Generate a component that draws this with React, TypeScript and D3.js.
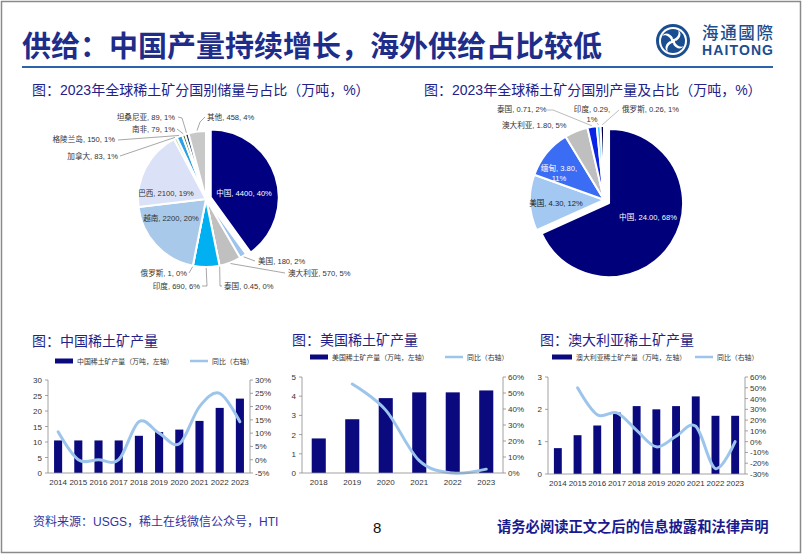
import React from 'react';
import * as d3 from 'd3';

// ---------- DATA ----------
const reserveCountries = ['中国', '美国', '澳大利亚', '泰国', '印度', '俄罗斯', '越南', '巴西', '加拿大', '格陵兰岛', '南非', '坦桑尼亚', '其他'];
const reserveValues = [4400, 180, 570, 0.45, 690, 1, 2200, 2100, 83, 150, 79, 89, 458];
const reserveShares = ['40%', '2%', '5%', '0%', '6%', '0%', '20%', '19%', '1%', '1%', '1%', '1%', '4%'];

const prodCountries = ['中国', '美国', '缅甸', '澳大利亚', '泰国', '印度', '俄罗斯'];
const prodValues = [24.0, 4.3, 3.8, 1.8, 0.71, 0.29, 0.26];
const prodValueLabels = ['24.00', '4.30', '3.80', '1.80', '0.71', '0.29', '0.26'];
const prodShares = ['68%', '12%', '11%', '5%', '2%', '1%', '1%'];

const cnYears = ['2014', '2015', '2016', '2017', '2018', '2019', '2020', '2021', '2022', '2023'];
const cnOutput = [10.5, 10.5, 10.5, 10.5, 12, 13.2, 14, 16.8, 21, 24];
const cnYoy = [10.5, 0, 0, 0, 14.3, 10, 6, 20, 25, 14.3];

const usYears = ['2018', '2019', '2020', '2021', '2022', '2023'];
const usOutput = [1.8, 2.8, 3.9, 4.2, 4.2, 4.3];
const usYoy: (number | null)[] = [null, 55.6, 39.3, 7.7, 0, 2.4];

const auYears = ['2014', '2015', '2016', '2017', '2018', '2019', '2020', '2021', '2022', '2023'];
const auOutput = [0.8, 1.2, 1.5, 1.9, 2.1, 2.0, 2.1, 2.4, 1.8, 1.8];
const auYoy: (number | null)[] = [null, 50, 25, 26.7, 10.5, -4.8, 5, 14.3, -25, 0];

const cnTicksL = [0, 5, 10, 15, 20, 25, 30];
const cnTicksR = [-5, 0, 5, 10, 15, 20, 25, 30];
const usTicksL = [0, 1, 2, 3, 4, 5];
const usTicksR = [0, 10, 20, 30, 40, 50, 60];
const auTicksL = [0, 1, 2, 3];
const auTicksR = [-30, -20, -10, 0, 10, 20, 30, 40, 50, 60];

// ---------- STYLE / LAYOUT ----------
const reserveColors = ['#000080', '#9dc3ee', '#c0c0c0', '#7f7f7f', '#00b0f0', '#1f3864', '#a9c9ea', '#dbe2f8', '#c5e0b4', '#2e9fe6', '#3d6b2a', '#1c3a66', '#c8c8c8'];
const prodColors = ['#00007a', '#a3c8f2', '#3a6cf4', '#bfbfbf', '#0a24e6', '#33ccff', '#000050'];

const CJK = '"Liberation Sans", "Noto Sans CJK SC", sans-serif';
const NAVY = '#22228a';
const BAR = '#0a0a7e';
const LINE = '#9dc5ec';

type Lab = { x: number; y: number; anchor: string; fill?: string; lead?: [number, number][]; lines?: string[] };

const pie1Layout: Record<string, Lab> = {
  中国: { x: 244, y: 196, anchor: 'middle', fill: '#fff' },
  美国: { x: 258, y: 264, anchor: 'start', lead: [[255, 261]] },
  澳大利亚: { x: 288, y: 276, anchor: 'start', lead: [[285, 273]] },
  泰国: { x: 224, y: 289, anchor: 'start', lead: [[220, 286], [222, 286]] },
  印度: { x: 200, y: 289, anchor: 'end', lead: [[207, 286], [202, 286]] },
  俄罗斯: { x: 187, y: 276, anchor: 'end', lead: [[189, 273]] },
  越南: { x: 171, y: 221, anchor: 'middle' },
  巴西: { x: 166, y: 196, anchor: 'middle' },
  加拿大: { x: 118, y: 159, anchor: 'end', lead: [[120, 156]] },
  格陵兰岛: { x: 115, y: 142, anchor: 'end', lead: [[118, 140]] },
  南非: { x: 175, y: 132, anchor: 'end', lead: [[177, 129]] },
  坦桑尼亚: { x: 175, y: 120, anchor: 'end', lead: [[182, 118], [178, 117]] },
  其他: { x: 207, y: 120, anchor: 'start', lead: [[200, 122], [205, 117]] },
};
const pie1Explode: Record<string, number> = { 中国: 5 };

const pie2Layout: Record<string, Lab> = {
  中国: { x: 648, y: 220, anchor: 'middle', fill: '#fff' },
  美国: { x: 556, y: 206, anchor: 'middle', fill: '#222' },
  缅甸: { x: 559, y: 171, anchor: 'middle', fill: '#fff', lines: ['缅甸, 3.80,', '11%'] },
  澳大利亚: { x: 502, y: 128, anchor: 'start' },
  泰国: { x: 497, y: 112, anchor: 'start', lead: [[553, 110], [547, 110]] },
  印度: { x: 592, y: 112, anchor: 'middle', lead: [[597, 123]], lines: ['印度, 0.29,', '1%'] },
  俄罗斯: { x: 622, y: 112, anchor: 'start', lead: [[619, 110]] },
};
const pie2Explode: Record<string, number> = { 中国: 6 };

function Pie(props: {
  names: string[]; values: number[]; valueLabels: string[]; shares: string[]; colors: string[];
  cx: number; cy: number; r: number; layout: Record<string, Lab>; explode: Record<string, number>; leadColor: string;
}) {
  const { names, values, valueLabels, shares, colors, cx, cy, r, layout, explode, leadColor } = props;
  const data = names.map((n, i) => ({ n, v: values[i], i }));
  const arcs = d3.pie<any>().sort(null).value((d: any) => d.v)(data);
  const arc = d3.arc<any>().innerRadius(0).outerRadius(r);
  return (
    <g>
      {arcs.map((a: any) => {
        const mid = (a.startAngle + a.endAngle) / 2;
        const e = explode[a.data.n] || 0;
        const dx = Math.sin(mid) * e, dy = -Math.cos(mid) * e;
        return (
          <path key={a.data.n} d={arc(a) || ''} transform={`translate(${cx + dx},${cy + dy})`}
            fill={colors[a.data.i]} stroke="#fff" strokeWidth={2} strokeLinejoin="round" />
        );
      })}
      {arcs.map((a: any) => {
        const L = layout[a.data.n];
        if (!L || !L.lead) return null;
        const mid = (a.startAngle + a.endAngle) / 2;
        const p0: [number, number] = [cx + Math.sin(mid) * (r + 1), cy - Math.cos(mid) * (r + 1)];
        const pts = [p0, ...L.lead];
        return <polyline key={'l' + a.data.n} points={pts.map(p => p.join(',')).join(' ')} fill="none" stroke={leadColor} strokeWidth={0.75} />;
      })}
      {arcs.map((a: any) => {
        const L = layout[a.data.n];
        if (!L) return null;
        const i = a.data.i;
        const lines = L.lines || [`${names[i]}, ${valueLabels[i]}, ${shares[i]}`];
        return (
          <text key={'t' + a.data.n} x={L.x} y={L.y} textAnchor={L.anchor} fontSize={7.6} fill={L.fill || '#333'} fontFamily={CJK}>
            {lines.map((s, k) => <tspan key={k} x={L.x} dy={k === 0 ? 0 : 9.5}>{s}</tspan>)}
          </text>
        );
      })}
    </g>
  );
}

function BarChart(props: {
  title: string; legendBar: string; years: string[]; values: number[]; yoy: (number | null)[];
  ticksL: number[]; ticksR: number[]; left: number; right: number; top: number; bottom: number;
  titleX: number; titleY: number; legY: number; legBarX: number; legBarW: number; legLineX: number; pad: number;
}) {
  const p = props;
  const x = d3.scaleBand<string>().domain(p.years).range([p.left, p.right]).paddingInner(p.pad).paddingOuter(p.pad / 2);
  const yL = d3.scaleLinear().domain([p.ticksL[0], p.ticksL[p.ticksL.length - 1]]).range([p.bottom, p.top]);
  const yR = d3.scaleLinear().domain([p.ticksR[0], p.ticksR[p.ticksR.length - 1]]).range([p.bottom, p.top]);
  const pts = p.years.map((yr, i) => ({ yr, v: p.yoy[i] })).filter(d => d.v !== null) as { yr: string; v: number }[];
  const line = d3.line<{ yr: string; v: number }>()
    .x(d => (x(d.yr) as number) + x.bandwidth() / 2)
    .y(d => yR(d.v))
    .curve(d3.curveCardinal.tension(0));
  const axisColor = '#8c8c8c';
  return (
    <g>
      <text x={p.titleX} y={p.titleY} fontSize={14} fill={NAVY} fontFamily={CJK}>{p.title}</text>
      <rect x={p.legBarX} y={p.legY - 2.5} width={p.legBarW} height={5} fill={BAR} />
      <text x={p.legBarX + p.legBarW + 4} y={p.legY + 2.5} fontSize={6.9} fill="#333" fontFamily={CJK}>{p.legendBar}</text>
      <line x1={p.legLineX} x2={p.legLineX + 18} y1={p.legY} y2={p.legY} stroke={LINE} strokeWidth={2.5} />
      <text x={p.legLineX + 22} y={p.legY + 2.5} fontSize={6.9} fill="#333" fontFamily={CJK}>同比（右轴）</text>

      {p.values.map((v, i) => (
        <rect key={i} x={x(p.years[i]) as number} y={yL(v)} width={x.bandwidth()} height={p.bottom - yL(v)} fill={BAR} />
      ))}
      <path d={line(pts) || ''} fill="none" stroke={LINE} strokeWidth={3} strokeLinecap="round" />

      <line x1={p.left} x2={p.left} y1={p.top} y2={p.bottom} stroke={axisColor} strokeWidth={0.8} />
      <line x1={p.right} x2={p.right} y1={p.top} y2={p.bottom} stroke={axisColor} strokeWidth={0.8} />
      <line x1={p.left} x2={p.right} y1={p.bottom} y2={p.bottom} stroke={axisColor} strokeWidth={0.8} />
      {p.ticksL.map(t => (
        <g key={'L' + t}>
          <line x1={p.left - 3} x2={p.left} y1={yL(t)} y2={yL(t)} stroke={axisColor} strokeWidth={0.8} />
          <text x={p.left - 6} y={yL(t) + 3} textAnchor="end" fontSize={8} fill="#333" fontFamily={CJK}>{t}</text>
        </g>
      ))}
      {p.ticksR.map(t => (
        <g key={'R' + t}>
          <line x1={p.right} x2={p.right + 3} y1={yR(t)} y2={yR(t)} stroke={axisColor} strokeWidth={0.8} />
          <text x={p.right + 5} y={yR(t) + 3} textAnchor="start" fontSize={8} fill="#333" fontFamily={CJK}>{t}%</text>
        </g>
      ))}
      {p.years.map(yr => (
        <text key={'x' + yr} x={(x(yr) as number) + x.bandwidth() / 2} y={p.bottom + 12} textAnchor="middle" fontSize={8} fill="#333" fontFamily={CJK}>{yr}</text>
      ))}
    </g>
  );
}

function Logo() {
  const cx = 673, cy = 41;
  const arms = [0, 90, 180, 270];
  return (
    <g>
      <circle cx={cx} cy={cy} r={17} fill="#1b4e91" />
      <circle cx={cx} cy={cy} r={14} fill="#fff" />
      <circle cx={cx} cy={cy} r={12} fill="#1b4e91" />
      {arms.map(a => (
        <path key={a} transform={`translate(${cx},${cy}) rotate(${a})`}
          d="M0,-1.5 C4,-3 7,-7 5,-11 C9,-8 8,-3 3,0 Z" fill="#fff" />
      ))}
      <circle cx={cx} cy={cy} r={2.2} fill="#fff" />
      <text x={702} y={39} fontSize={16.5} fill="#1b4e91" fontFamily={CJK} fontWeight={500} textLength={71}>海通國際</text>
      <text x={702} y={55} fontSize={14} fill="#1b4e91" fontFamily='"Liberation Sans", sans-serif' fontWeight={700} textLength={71}>HAITONG</text>
    </g>
  );
}

export default function App() {
  return (
    <svg width={802} height={554} style={{ position: 'absolute', left: 0, top: 0, background: '#fff' }} xmlns="http://www.w3.org/2000/svg">
      <rect x={0} y={0} width={802} height={554} fill="#fff" />
      <rect x={1.5} y={1.5} width={799} height={551} fill="none" stroke="#8a8a8a" strokeWidth={1.5} />
      <text x={22} y={57} fontSize={29} fill="#1f2d8a" fontWeight={700} fontFamily={CJK}>供给：中国产量持续增长，海外供给占比较低</text>
      <line x1={22} x2={773} y1={67} y2={67} stroke="#2d63ad" strokeWidth={2} />
      <Logo />

      <text x={32} y={95} fontSize={14} fill={NAVY} fontFamily={CJK}>图：2023年全球稀土矿分国别储量与占比（万吨，%）</text>
      <text x={424} y={95} fontSize={14} fill={NAVY} fontFamily={CJK}>图：2023年全球稀土矿分国别产量及占比（万吨，%）</text>

      <Pie names={reserveCountries} values={reserveValues} valueLabels={reserveValues.map(String)} shares={reserveShares}
        colors={reserveColors} cx={206} cy={199} r={68} layout={pie1Layout} explode={pie1Explode} leadColor="#8a8a8a" />
      <Pie names={prodCountries} values={prodValues} valueLabels={prodValueLabels} shares={prodShares}
        colors={prodColors} cx={604} cy={199.8} r={74} layout={pie2Layout} explode={pie2Explode} leadColor="#a6a6a6" />

      <BarChart title="图：中国稀土矿产量" legendBar="中国稀土矿产量（万吨，左轴）" years={cnYears} values={cnOutput} yoy={cnYoy}
        ticksL={cnTicksL} ticksR={cnTicksR} left={48} right={250} top={380} bottom={473}
        titleX={32} titleY={346} legY={361} legBarX={55} legBarW={18} legLineX={190} pad={0.6} />
      <BarChart title="图：美国稀土矿产量" legendBar="美国稀土矿产量（万吨，左轴）" years={usYears} values={usOutput} yoy={usYoy}
        ticksL={usTicksL} ticksR={usTicksR} left={302} right={503} top={377} bottom={473}
        titleX={292} titleY={345} legY={357} legBarX={310} legBarW={18} legLineX={445} pad={0.58} />
      <BarChart title="图：澳大利亚稀土矿产量" legendBar="澳大利亚稀土矿产量（万吨，左轴）" years={auYears} values={auOutput} yoy={auYoy}
        ticksL={auTicksL} ticksR={auTicksR} left={548} right={745} top={377} bottom={474}
        titleX={540} titleY={345} legY={357} legBarX={552} legBarW={20} legLineX={695} pad={0.6} />

      <text x={33} y={526} fontSize={12} fill="#3333a0" fontFamily={CJK}>资料来源：USGS，稀土在线微信公众号，HTI</text>
      <text x={373} y={533} fontSize={15} fill="#111" fontFamily='"Liberation Sans", sans-serif'>8</text>
      <text x={497} y={532} fontSize={14.3} fill="#1a1a8f" fontWeight={700} fontFamily={CJK}>请务必阅读正文之后的信息披露和法律声明</text>
    </svg>
  );
}
